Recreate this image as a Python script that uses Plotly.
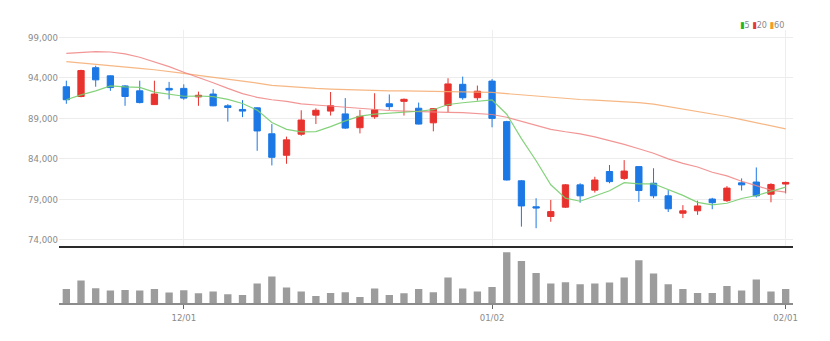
import plotly.graph_objects as go

# Trading days (KRX), Nov 21 2022 - Feb 1 2023
dates = [
    "2022-11-21", "2022-11-22", "2022-11-23", "2022-11-24", "2022-11-25",
    "2022-11-28", "2022-11-29", "2022-11-30",
    "2022-12-01", "2022-12-02", "2022-12-05", "2022-12-06", "2022-12-07",
    "2022-12-08", "2022-12-09", "2022-12-12", "2022-12-13", "2022-12-14",
    "2022-12-15", "2022-12-16", "2022-12-19", "2022-12-20", "2022-12-21",
    "2022-12-22", "2022-12-23", "2022-12-26", "2022-12-27", "2022-12-28",
    "2022-12-29",
    "2023-01-02", "2023-01-03", "2023-01-04", "2023-01-05", "2023-01-06",
    "2023-01-09", "2023-01-10", "2023-01-11", "2023-01-12", "2023-01-13",
    "2023-01-16", "2023-01-17", "2023-01-18", "2023-01-19", "2023-01-20",
    "2023-01-25", "2023-01-26", "2023-01-27", "2023-01-30", "2023-01-31",
    "2023-02-01",
]

opens = [92900, 91700, 95250, 94250, 93000, 92400, 90700, 92700, 92700, 91650,
         92000, 90550, 90100, 90300, 87100, 84450, 87050, 89400, 89900, 89550,
         87850, 89200, 90800, 91100, 90250, 88450, 90600, 93200, 91550, 93600,
         88600, 81300, 78100, 76900, 78050, 80800, 80150, 82450, 81600, 83050,
         81000, 79450, 77300, 77600, 79050, 78850, 81050, 81150, 79650, 80900]
highs = [93650, 95000, 95500, 94300, 93100, 93650, 93650, 93500, 93200, 92300,
         92600, 90750, 91250, 90350, 88300, 86750, 90000, 90250, 92250, 91500,
         90050, 92100, 91950, 91450, 90950, 90250, 93950, 94150, 93050, 93850,
         88700, 81400, 79150, 78950, 80900, 81000, 81800, 83250, 83850, 83100,
         82850, 80150, 78300, 78850, 79200, 80650, 81600, 82950, 81000, 81200]
lows = [90800, 91600, 92900, 92400, 90550, 90850, 90650, 91350, 91300, 90550,
        90500, 88600, 89150, 85000, 83200, 83400, 86850, 88300, 89350, 87700,
        87150, 88950, 90050, 89350, 88250, 87400, 89750, 91300, 91200, 87900,
        81350, 75650, 75450, 76250, 77950, 78600, 79850, 81000, 81400, 78700,
        79150, 77450, 76700, 77100, 77800, 78700, 80100, 79250, 78650, 79750]
closes = [91300, 94900, 93750, 92800, 91700, 90950, 92000, 92500, 91500, 91850,
          90550, 90350, 89900, 87450, 84200, 86350, 88800, 90000, 90550, 87800,
          89250, 90050, 90450, 91350, 88300, 90200, 93250, 91550, 92350, 89000,
          81400, 78200, 77950, 77500, 80800, 79450, 81400, 81200, 82500, 80100,
          79450, 77850, 77600, 78200, 78600, 80400, 80800, 79450, 80850, 81100]

ma5 = [91300, 91900, 92400, 93000, 92890, 92820, 92240, 91990, 91730, 91760,
       91680, 91350, 90830, 90020, 88490, 87650, 87340, 87360, 87980, 88700,
       89280, 89530, 89620, 89780, 89880, 90070, 90710, 90930, 91130, 91270,
       89510, 86500, 83780, 80810, 79170, 78780, 79420, 80070, 81070, 80930,
       80930, 80220, 79500, 78640, 78340, 78530, 79120, 79490, 80020, 80520]
ma20 = [97030, 97150, 97230, 97190, 96950, 96540, 96000, 95380, 94690, 94070,
        93400, 92700, 92050, 91600, 91300, 91100, 90800, 90650, 90500, 90400,
        90250, 90100, 89970, 89900, 89820, 89780, 89740, 89700, 89620, 89480,
        89140, 88650, 88100, 87650, 87350, 87100, 86720, 86300, 85800, 85250,
        84700, 84000, 83450, 83000, 82350, 81900, 81250, 80700, 80150, 79900]
ma60 = [96000, 95850, 95700, 95550, 95350, 95180, 95000, 94800, 94550, 94300,
        94080, 93880, 93600, 93350, 93080, 92930, 92800, 92700, 92620, 92550,
        92470, 92420, 92400, 92390, 92350, 92320, 92300, 92280, 92260, 92200,
        92050, 91900, 91700, 91550, 91420, 91330, 91250, 91170, 91060, 90950,
        90750, 90450, 90180, 89880, 89570, 89230, 88850, 88450, 88050, 87700]

volumes = [143000, 227000, 150000, 127000, 133000, 127000, 143000, 107000, 130000, 100000,
           117000, 90000, 83000, 197000, 267000, 157000, 117000, 73000, 103000, 110000,
           63000, 147000, 83000, 100000, 143000, 110000, 257000, 147000, 117000, 163000,
           510000, 423000, 303000, 197000, 210000, 190000, 197000, 207000, 257000, 430000,
           297000, 190000, 143000, 103000, 103000, 173000, 127000, 237000, 117000, 143000]

tick_dates = ["2022-12-01", "2023-01-02", "2023-02-01"]
tick_labels = ["12/01", "01/02", "02/01"]
price_ticks = [74000, 79000, 84000, 89000, 94000, 99000]

UP = "#e8322e"
DOWN = "#1c78e4"
FONT = "Liberation Sans Narrow, DejaVu Sans Condensed, Arial, sans-serif"

fig = go.Figure()

fig.add_trace(go.Candlestick(
    x=dates, open=opens, high=highs, low=lows, close=closes,
    increasing=dict(line=dict(color=UP, width=1), fillcolor=UP),
    decreasing=dict(line=dict(color=DOWN, width=1), fillcolor=DOWN),
    whiskerwidth=0, xaxis="x", yaxis="y", showlegend=False,
))

for vals, color in [(ma60, "rgba(245,170,110,0.85)"),
                    (ma20, "rgba(240,130,130,0.85)"),
                    (ma5, "rgba(120,205,110,0.9)")]:
    fig.add_trace(go.Scatter(
        x=dates, y=vals, mode="lines", line=dict(color=color, width=1.2),
        xaxis="x", yaxis="y", showlegend=False, hoverinfo="skip",
    ))

fig.add_trace(go.Bar(
    x=dates, y=volumes, width=0.5, marker=dict(color="#9c9c9c", line=dict(width=0)),
    xaxis="x2", yaxis="y2", showlegend=False,
))

fig.update_layout(
    width=830, height=341,
    margin=dict(l=59, r=37, t=0, b=0),
    paper_bgcolor="white", plot_bgcolor="white",
    font=dict(family=FONT, size=10, color="#8a8a8a"),
    boxgap=0.45, boxgroupgap=0.22,
    xaxis=dict(
        type="category", categoryorder="array", categoryarray=dates,
        range=[-0.5, 49.5], anchor="y",
        tickvals=tick_dates, showticklabels=False, ticks="",
        showgrid=True, gridcolor="#eeeeee", gridwidth=1,
        showline=True, linecolor="#2a2a2a", linewidth=2,
        rangeslider=dict(visible=False), zeroline=False,
    ),
    yaxis=dict(
        domain=[0.2786, 0.912], range=[73260, 99900], anchor="x",
        tickvals=price_ticks, tickformat=",", ticks="",
        showgrid=True, gridcolor="#ececec", gridwidth=1,
        zeroline=False, showline=False,
        tickfont=dict(family=FONT, size=9.5, color="#8a8a8a"),
    ),
    xaxis2=dict(
        type="category", categoryorder="array", categoryarray=dates,
        range=[-0.5, 49.5], anchor="y2",
        tickvals=tick_dates, ticktext=tick_labels,
        ticks="outside", ticklen=4, tickcolor="#666666", tickwidth=1,
        showgrid=False, showline=True, linecolor="#8c8c8c", linewidth=2,
        tickfont=dict(family=FONT, size=9.5, color="#8a8a8a"),
        zeroline=False,
    ),
    yaxis2=dict(
        domain=[0.1106, 0.2669], range=[0, 533000], anchor="x2",
        showticklabels=False, showgrid=False, zeroline=False, ticks="",
    ),
    annotations=[dict(
        xref="paper", yref="paper", x=0.99, y=0.927, xanchor="right", yanchor="middle",
        showarrow=False, font=dict(family=FONT, size=9, color="#8a8a8a"),
        text=('<span style="color:#22b422">▮</span>5 '
              '<span style="color:#e53535">▮</span>20 '
              '<span style="color:#f39a2b">▮</span>60'),
    )],
)

fig.write_html("out.html")
